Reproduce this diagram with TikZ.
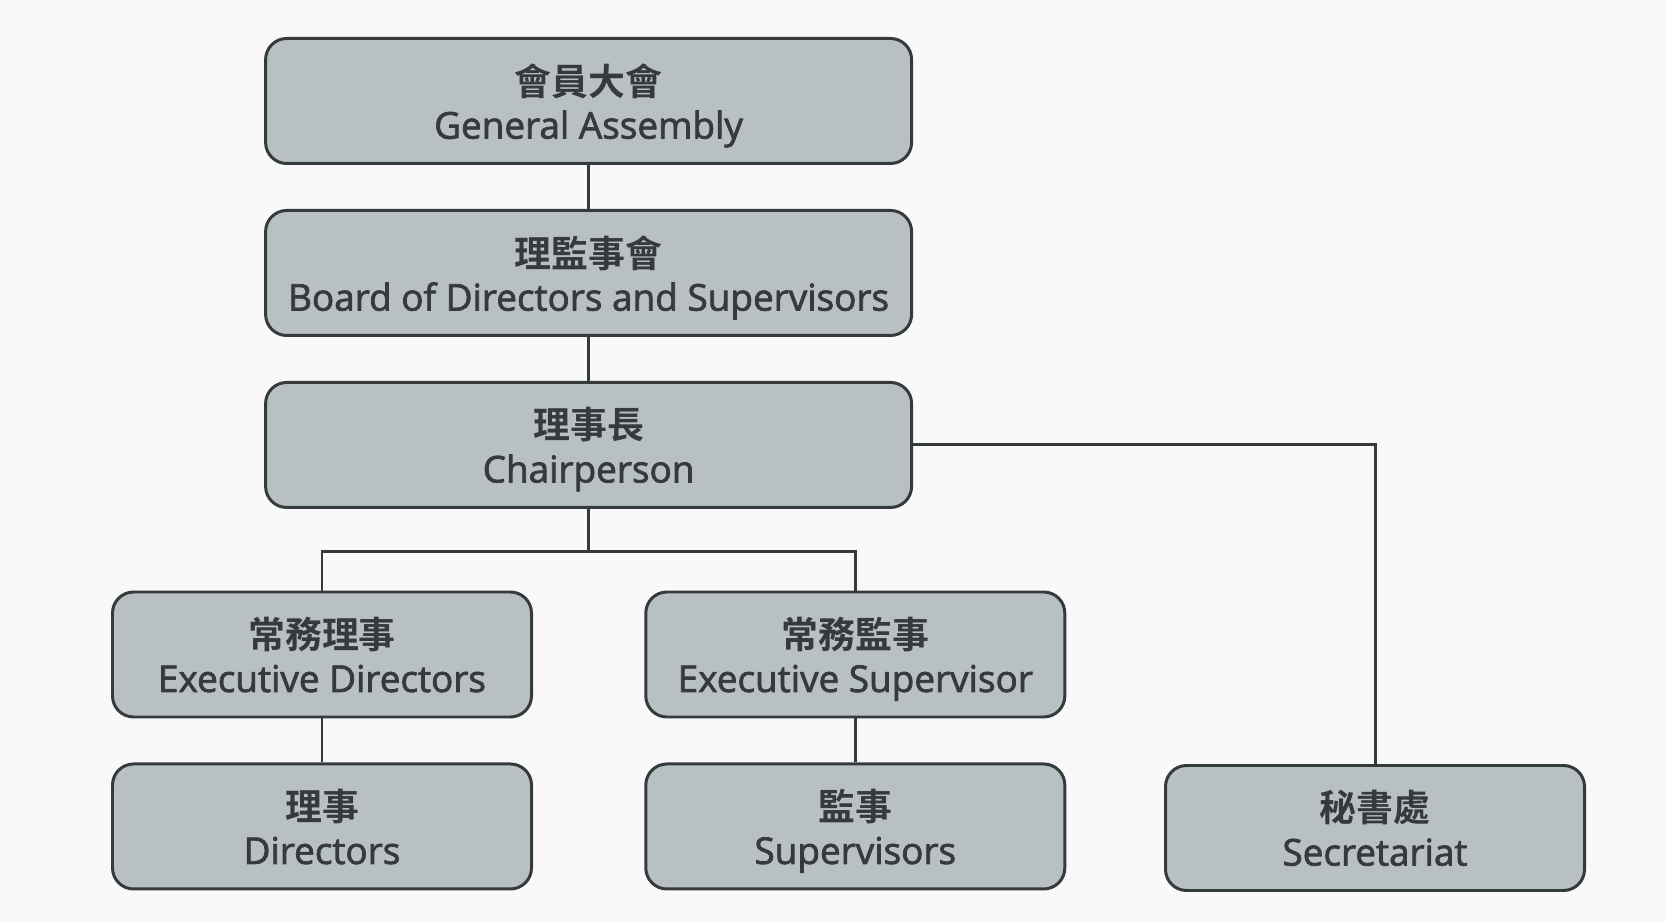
\documentclass[tikz,border=0pt]{standalone}
\usepackage{fontspec}
\setmainfont{Open Sans}
\newfontfamily\en{Open Sans}[FakeBold=2]
\newfontfamily\cjk{Noto Sans CJK TC}[BoldFont={Noto Sans CJK TC Bold}]
\usetikzlibrary{positioning,calc}

\definecolor{boxfill}{HTML}{B8C0C3}
\definecolor{boxline}{HTML}{353B3D}
\definecolor{pagebg}{HTML}{F9F9F9}

\tikzset{
    unit/.style={draw=boxline, fill=boxfill, line width=0.85pt, rounded corners=6pt,
        minimum height=1.25cm, align=center, text=boxline, font=\en\fontsize{10.5}{12.4}\selectfont,
        inner sep=0pt, text depth=0pt},
    wide/.style={unit, minimum width=6.46cm},
    narrow/.style={unit, minimum width=4.19cm},
    link/.style={draw=boxline, line width=0.85pt}
}
\newcommand{\zh}[1]{{\cjk\bfseries #1}}

\begin{document}
\begin{tikzpicture}
    \useasboundingbox[fill=pagebg] (0,0) rectangle (16.66,-9.22);
    \node[wide] (assembly) at (5.886,-1.01) {\zh{會員大會}\\General Assembly};
    \node[wide] (board) [below=0.44cm of assembly] {\zh{理監事會}\\Board of Directors and Supervisors};
    \node[wide] (chair) [below=0.44cm of board] {\zh{理事長}\\Chairperson};
    \node[narrow] (execdir) at (3.22,-6.545) {\zh{常務理事}\\Executive Directors};
    \node[narrow] (execsup) at (8.553,-6.545) {\zh{常務監事}\\Executive Supervisor};
    \node[narrow] (directors) [below=0.44cm of execdir] {\zh{理事}\\Directors};
    \node[narrow] (supervisors) [below=0.44cm of execsup] {\zh{監事}\\Supervisors};
    \node[narrow] (secretariat) at (13.75,-8.28) {\zh{秘書處}\\Secretariat};
    \coordinate (split) at ($(chair.south)+(0,-0.425)$);

    \draw[link] (assembly) -- (board);
    \draw[link] (board) -- (chair);
    \draw[link] (chair.south) -- (split) -| (execdir.north);
    \draw[link] (split) -| (execsup.north);
    \draw[link] (execdir) -- (directors);
    \draw[link] (execsup) -- (supervisors);
    \draw[link] (chair.east) -| (secretariat.north);
\end{tikzpicture}
\end{document}
